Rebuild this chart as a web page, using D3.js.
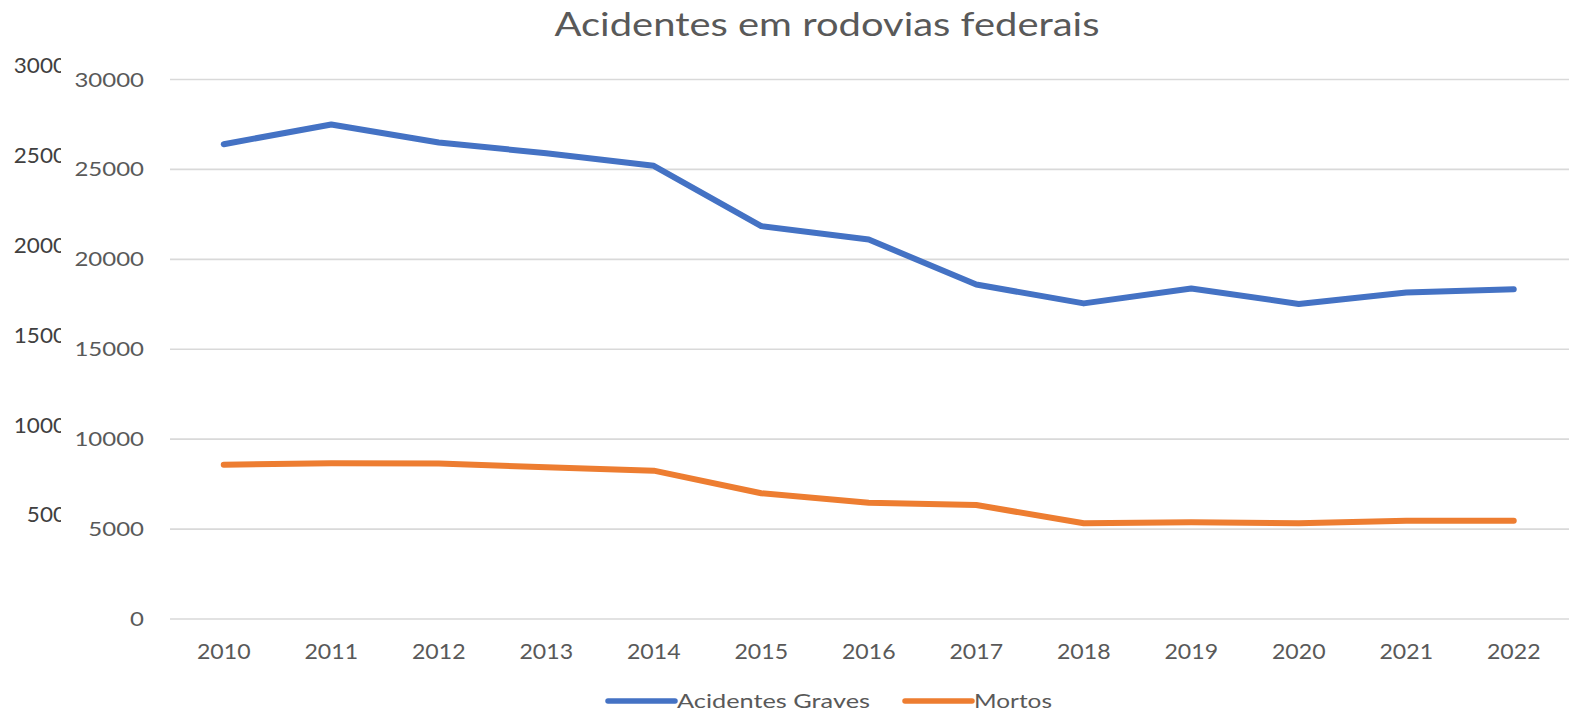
<!DOCTYPE html>
<html>
<head>
<meta charset="utf-8">
<script src="https://cdn.jsdelivr.net/npm/d3@7"></script>
<style>
  body { margin: 0; background: #fff; }
  text { font-family: Lato, "Open Sans", sans-serif; }
</style>
</head>
<body>
<div id="chart"></div>
<script>
// Data
var years = ["2010", "2011", "2012", "2013", "2014", "2015", "2016", "2017", "2018", "2019", "2020", "2021", "2022"];
var acidentesGraves = [26400, 27500, 26500, 25900, 25200, 21850, 21100, 18600, 17550, 18380, 17520, 18150, 18340];
var mortos = [8580, 8660, 8650, 8440, 8250, 6990, 6470, 6340, 5320, 5380, 5320, 5460, 5460];
var yTicks = [0, 5000, 10000, 15000, 20000, 25000, 30000];
var seriesNames = ["Acidentes Graves", "Mortos"];
var seriesColors = ["#4472C4", "#ED7D31"];

var svgWidth = 1569;
var svgHeight = 716;

var svg = d3.select("#chart")
  .append("svg")
  .attr("width", svgWidth)
  .attr("height", svgHeight);

// stretch text horizontally (the source picture is a bit wide)
function stretch(sel, factor) {
  sel.each(function() {
    var w = this.getComputedTextLength();
    d3.select(this)
      .attr("textLength", w * factor)
      .attr("lengthAdjust", "spacingAndGlyphs");
  });
}

var x = d3.scalePoint()
  .domain(years)
  .range([170, 1567.5])
  .padding(0.5);

var y = d3.scaleLinear()
  .domain([0, 30000])
  .range([619, 79.5]);

// gridlines
svg.append("g")
  .selectAll("line")
  .data(yTicks)
  .enter()
  .append("line")
  .attr("x1", 170)
  .attr("x2", svgWidth)
  .attr("y1", d => y(d))
  .attr("y2", d => y(d))
  .attr("stroke", "#d9d9d9")
  .attr("stroke-width", 1.6);

// y labels
var yLabels = svg.append("g")
  .selectAll("text")
  .data(yTicks)
  .enter()
  .append("text")
  .attr("x", 144)
  .attr("y", d => y(d))
  .attr("dy", "0.35em")
  .attr("text-anchor", "end")
  .attr("fill", "#595959")
  .style("font-size", "20px")
  .text(d => d);
stretch(yLabels, 1.2);

// ghost labels on the far left, cut off
svg.append("clipPath")
  .attr("id", "ghostClip")
  .append("rect")
  .attr("x", 0)
  .attr("y", 0)
  .attr("width", 61)
  .attr("height", svgHeight);

var ghost = svg.append("g")
  .attr("clip-path", "url(#ghostClip)")
  .selectAll("text")
  .data(yTicks.filter(d => d > 0))
  .enter()
  .append("text")
  .attr("x", 79)
  .attr("y", d => y(d) - 14)
  .attr("dy", "0.35em")
  .attr("text-anchor", "end")
  .attr("fill", "#404040")
  .style("font-size", "21px")
  .text(d => d);
stretch(ghost, 1.07);

// x labels
var xLabels = svg.append("g")
  .selectAll("text")
  .data(years)
  .enter()
  .append("text")
  .attr("x", d => x(d))
  .attr("y", 659)
  .attr("text-anchor", "middle")
  .attr("fill", "#595959")
  .style("font-size", "21px")
  .text(d => d);
stretch(xLabels, 1.1);

// lines
var line = d3.line()
  .x((d, i) => x(years[i]))
  .y(d => y(d));

[acidentesGraves, mortos].forEach(function(values, i) {
  svg.append("path")
    .datum(values)
    .attr("fill", "none")
    .attr("stroke", seriesColors[i])
    .attr("stroke-width", 6)
    .attr("stroke-linecap", "round")
    .attr("stroke-linejoin", "round")
    .attr("d", line);
});

// title
var title = svg.append("text")
  .attr("x", 827)
  .attr("y", 36)
  .attr("text-anchor", "middle")
  .attr("fill", "#595959")
  .style("font-size", "32px")
  .text("Acidentes em rodovias federais");
title.attr("textLength", 545).attr("lengthAdjust", "spacingAndGlyphs");

// legend
var legendX = [608, 905];
var legendW = [193, 78];
seriesNames.forEach(function(name, i) {
  svg.append("line")
    .attr("x1", legendX[i])
    .attr("x2", legendX[i] + 67)
    .attr("y1", 701)
    .attr("y2", 701)
    .attr("stroke", seriesColors[i])
    .attr("stroke-width", 5.5)
    .attr("stroke-linecap", "round");
  svg.append("text")
    .attr("x", legendX[i] + 69)
    .attr("y", 708)
    .attr("fill", "#595959")
    .style("font-size", "19px")
    .attr("textLength", legendW[i])
    .attr("lengthAdjust", "spacingAndGlyphs")
    .text(name);
});
</script>
</body>
</html>
